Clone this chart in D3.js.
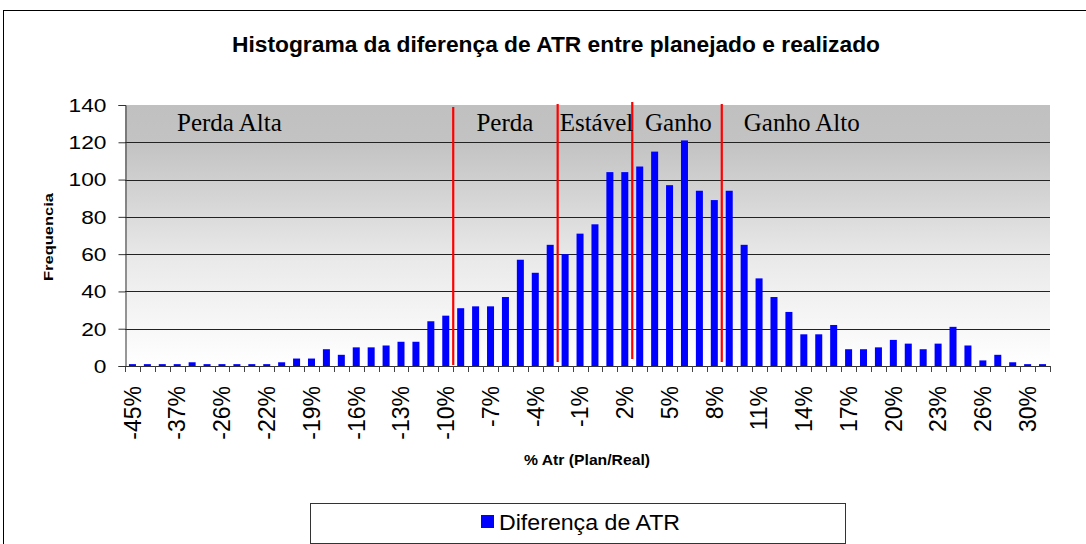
<!DOCTYPE html>
<html>
<head>
<meta charset="utf-8">
<script src="https://cdn.jsdelivr.net/npm/d3@7"></script>
<style>
  html, body { margin: 0; padding: 0; background: #fff; }
  svg { display: block; }
</style>
</head>
<body>
<svg id="chart" width="1086" height="544"></svg>
<script>
// ---------- DATA ----------
const categories = [
  "-45%","-42%","-39%","-37%","-33%","-30%","-26%","-25%","-23%","-22%",
  "-21%","-20%","-19%","-18%","-17%","-16%","-15%","-14%","-13%","-12%",
  "-11%","-10%","-9%","-8%","-7%","-6%","-5%","-4%","-3%","-2%",
  "-1%","0%","1%","2%","3%","4%","5%","6%","7%","8%",
  "9%","10%","11%","12%","13%","14%","15%","16%","17%","18%",
  "19%","20%","21%","22%","23%","24%","25%","26%","27%","28%",
  "30%","32%"
];
const frequencies = [
  1,1,1,1,2,1,1,1,1,1,
  2,4,4,9,6,10,10,11,13,13,
  24,27,31,32,32,37,57,50,65,60,
  71,76,104,104,107,115,97,121,94,89,
  94,65,47,37,29,17,17,22,9,9,
  10,14,12,9,12,21,11,3,6,2,
  1,1
];
const yTicks = [0, 20, 40, 60, 80, 100, 120, 140];
const regionNames = ["Perda Alta", "Perda", "Estável", "Ganho", "Ganho Alto"];
const regionStarts = ["-9%", "-2%", "3%", "9%"];   // first category of each new region
const seriesName = "Diferença de ATR";
const chartTitle = "Histograma da diferença de ATR entre planejado e realizado";
const xTitle = "% Atr (Plan/Real)";
const yTitle = "Frequencia";

// ---------- LAYOUT ----------
const svg = d3.select("#chart");
const L = 125, R = 1050, T = 105, B = 366;
const SANS = "'Liberation Sans', Arial, sans-serif";
const SERIF = "'Liberation Serif', 'Times New Roman', serif";

const x = d3.scaleBand().domain(categories).range([L, R]).paddingInner(0.53).paddingOuter(0.265);
const y = d3.scaleLinear().domain([0, 140]).range([B, T]);
const step = x.step();
const boundary = c => x(c) - step * x.paddingInner() / 2;

// outer frame
svg.append("rect").attr("x", 3.5).attr("y", 10.5).attr("width", 1100).attr("height", 600)
  .attr("fill", "#fff").attr("stroke", "#000").attr("stroke-width", 1);

// gradient background
const defs = svg.append("defs");
const g = defs.append("linearGradient").attr("id", "bg").attr("x1", 0).attr("y1", 0).attr("x2", 0).attr("y2", 1);
g.append("stop").attr("offset", "0").attr("stop-color", "#c0c0c0");
g.append("stop").attr("offset", "0.15").attr("stop-color", "#c3c3c3");
g.append("stop").attr("offset", "0.6").attr("stop-color", "#eaeaea");
g.append("stop").attr("offset", "1").attr("stop-color", "#ffffff");
svg.append("rect").attr("x", L).attr("y", T).attr("width", R - L).attr("height", B - T).attr("fill", "url(#bg)");

// gridlines
svg.append("g").selectAll("line").data(yTicks.filter(v => v > 0 && v < 140)).join("line")
  .attr("x1", L).attr("x2", R)
  .attr("y1", d => Math.round(y(d)) + 0.5).attr("y2", d => Math.round(y(d)) + 0.5)
  .attr("stroke", "#222").attr("stroke-width", 1);

// bars
svg.append("g").selectAll("rect").data(frequencies).join("rect")
  .attr("x", (d, i) => x(categories[i]))
  .attr("width", x.bandwidth())
  .attr("y", d => y(d))
  .attr("height", d => y(0) - y(d))
  .attr("fill", "#0000ff");

// red region dividers
const redOffsets = [[2, -1], [-1, -4], [-3, -7], [-1, -4]];
svg.append("g").selectAll("line").data(regionStarts).join("line")
  .attr("x1", d => boundary(d)).attr("x2", d => boundary(d))
  .attr("y1", (d, i) => y(140) + redOffsets[i][0])
  .attr("y2", (d, i) => y(0) + redOffsets[i][1])
  .attr("stroke", "#ff0000").attr("stroke-width", 2.2);

// region labels
const bx = regionStarts.map(boundary);
const regionX = [L + 52, (bx[0] + bx[1]) / 2 - 29, bx[1] + 2, (bx[2] + bx[3]) / 2 - 32, bx[3] + 22];
svg.append("g").selectAll("text").data(regionNames).join("text")
  .attr("x", (d, i) => regionX[i]).attr("y", 131)
  .attr("font-family", SERIF).attr("font-size", 25).attr("fill", "#000")
  .text(d => d);

// x axis line & ticks at bin boundaries
svg.append("line").attr("x1", L).attr("x2", R).attr("y1", B + 0.5).attr("y2", B + 0.5)
  .attr("stroke", "#333").attr("stroke-width", 1);
const bounds = categories.map(boundary).concat([R]);
svg.append("g").selectAll("line").data(bounds).join("line")
  .attr("x1", d => Math.round(d) + 0.5).attr("x2", d => Math.round(d) + 0.5)
  .attr("y1", B).attr("y2", B + 6)
  .attr("stroke", "#444").attr("stroke-width", 1);

// x tick labels via axis
const xAxis = d3.axisBottom(x)
  .tickValues(categories.filter((d, i) => i % 3 === 0))
  .tickSize(0).tickPadding(0);
const xg = svg.append("g").attr("transform", `translate(0,${B})`).call(xAxis);
xg.select(".domain").remove();
xg.selectAll("text")
  .attr("font-family", SANS).attr("font-size", 23).attr("fill", "#000")
  .attr("text-anchor", "end")
  .attr("transform", "rotate(-90)")
  .attr("x", -20).attr("y", 0).attr("dy", "0.36em");

// y axis
const yAxis = d3.axisLeft(y).tickValues(yTicks).tickSize(7).tickPadding(12);
const yg = svg.append("g").attr("transform", `translate(${L + 0.5},0)`).call(yAxis);
yg.select(".domain").attr("stroke", "#333");
yg.selectAll(".tick line").attr("stroke", "#333");
yg.selectAll("text").attr("font-family", SANS).attr("font-size", 17.5).attr("fill", "#000")
  .attr("dy", "0.36em")
  .each(function () {
    const w = this.getComputedTextLength();
    d3.select(this).attr("textLength", w * 1.3).attr("lengthAdjust", "spacingAndGlyphs");
  });

// title
svg.append("text").attr("x", 556).attr("y", 52).attr("text-anchor", "middle")
  .attr("font-family", SANS).attr("font-weight", "bold").attr("font-size", 22)
  .attr("textLength", 648).attr("lengthAdjust", "spacingAndGlyphs")
  .text(chartTitle);

// axis titles
svg.append("text").attr("x", 587).attr("y", 465).attr("text-anchor", "middle")
  .attr("font-family", SANS).attr("font-weight", "bold").attr("font-size", 14)
  .attr("textLength", 126).attr("lengthAdjust", "spacingAndGlyphs")
  .text(xTitle);
svg.append("text").attr("transform", "translate(53,237) rotate(-90)").attr("text-anchor", "middle")
  .attr("font-family", SANS).attr("font-weight", "bold").attr("font-size", 13)
  .attr("textLength", 88).attr("lengthAdjust", "spacingAndGlyphs")
  .text(yTitle);

// legend
const lg = svg.append("g");
lg.append("rect").attr("x", 310.5).attr("y", 503.5).attr("width", 535).attr("height", 40)
  .attr("fill", "#fff").attr("stroke", "#333").attr("stroke-width", 1);
lg.append("rect").attr("x", 481).attr("y", 515).attr("width", 13).attr("height", 13).attr("fill", "#0000ff");
lg.append("text").attr("x", 499).attr("y", 530)
  .attr("font-family", SANS).attr("font-size", 22)
  .attr("textLength", 181).attr("lengthAdjust", "spacingAndGlyphs")
  .text(seriesName);
</script>
</body>
</html>
